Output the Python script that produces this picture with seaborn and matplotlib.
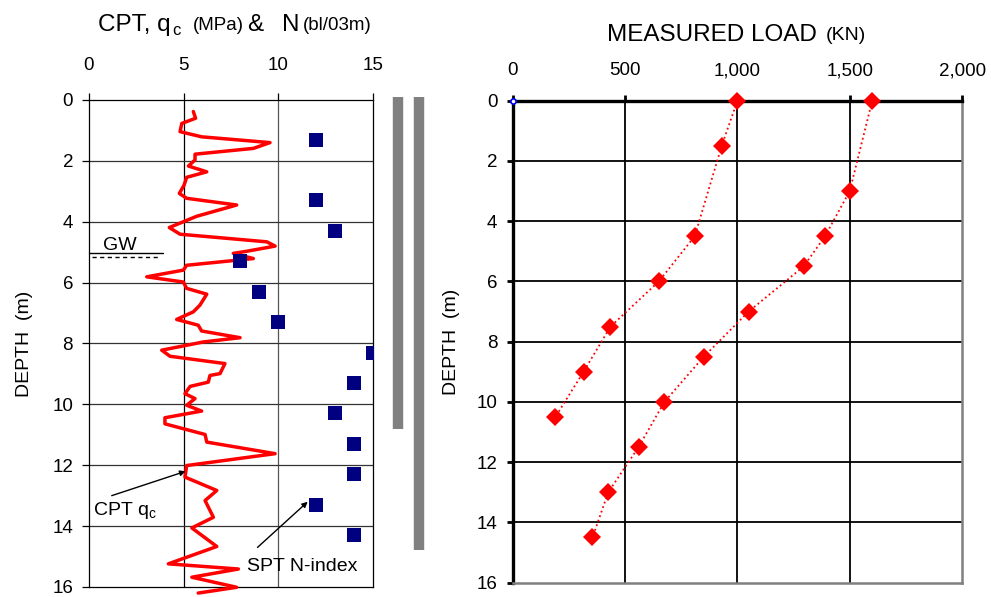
import matplotlib
matplotlib.use('Agg')
import matplotlib.pyplot as plt
import pandas as pd
import seaborn as sns

# CPT cone resistance qc (MPa) against depth (m)
cpt_qc = [5.51, 5.63, 4.90, 4.81, 5.95, 9.56, 8.68, 5.60, 5.60, 5.25, 6.22, 5.16,
          5.02, 4.77, 5.16, 7.80, 5.69, 4.24, 4.81, 9.39, 9.83, 8.33, 7.62, 8.68,
          5.16, 4.98, 3.05, 4.98, 5.16, 6.22, 5.86, 5.51, 4.63, 5.77, 5.95, 7.98,
          6.04, 3.84, 4.28, 7.18, 6.92, 6.39, 6.30, 5.34, 5.07, 5.60, 5.16, 5.95,
          4.01, 4.01, 6.13, 6.22, 9.83, 5.16, 5.07, 6.75, 6.13, 6.57, 5.43, 6.75,
          4.19, 7.89, 5.43, 7.80, 5.77]
cpt_depth = [0.38, 0.60, 0.77, 1.04, 1.21, 1.40, 1.59, 1.78, 1.97, 2.17, 2.36, 2.54,
             2.80, 3.07, 3.23, 3.45, 3.82, 4.19, 4.41, 4.66, 4.80, 4.97, 5.04, 5.21,
             5.43, 5.59, 5.81, 5.98, 6.19, 6.38, 6.74, 6.96, 7.21, 7.40, 7.59, 7.81,
             7.95, 8.22, 8.42, 8.66, 8.99, 9.05, 9.27, 9.41, 9.65, 9.81, 10.03, 10.22,
             10.44, 10.64, 10.99, 11.24, 11.62, 12.01, 12.39, 12.83, 13.16, 13.71, 14.06, 14.67,
             15.24, 15.41, 15.68, 16.01, 16.20]

# SPT blow counts
spt_n = [12, 12, 13, 8, 9, 10, 15, 14, 13, 14, 14, 12, 14]
spt_depth = [1.3, 3.3, 4.3, 5.3, 6.3, 7.3, 8.3, 9.3, 10.3, 11.3, 12.3, 13.3, 14.3]

# pile lengths shown as grey bars (m)
pile_x = [16.3, 17.45]
pile_top = [-0.1, -0.1]
pile_bottom = [10.8, 14.8]

gw_depth = 5.02

# measured load distribution along the two piles
pile1_load = [1000, 930, 810, 650, 435, 315, 190]
pile1_depth = [0, 1.5, 4.5, 6.0, 7.5, 9.0, 10.5]
pile2_load = [1600, 1500, 1390, 1295, 1050, 850, 675, 560, 425, 355]
pile2_depth = [0, 3.0, 4.5, 5.5, 7.0, 8.5, 10.0, 11.5, 13.0, 14.5]
origin_load = [0]
origin_depth = [0]

sns.set_theme(style="white", rc={'text.color': 'black', 'axes.labelcolor': 'black',
                                 'xtick.color': 'black', 'ytick.color': 'black'})
plt.rcParams['font.family'] = ['Liberation Sans', 'DejaVu Sans']

fig = plt.figure(figsize=(9.91, 5.97), dpi=100)
ax1 = fig.add_axes([0.0898, 0.0168, 0.2866, 0.8157])
ax2 = fig.add_axes([0.5174, 0.0240, 0.4534, 0.8073])

# ---- left panel: CPT and SPT
cpt = pd.DataFrame({'qc': cpt_qc, 'depth': cpt_depth})
spt = pd.DataFrame({'N': spt_n, 'depth': spt_depth})

for x in [5, 10]:
    ax1.axvline(x, color='black' if x == 5 else '#555555', lw=0.9, zorder=1)
for y in range(2, 16, 2):
    ax1.axhline(y, color='#333333', lw=0.9, zorder=1)

sns.lineplot(data=cpt, x='qc', y='depth', sort=False, estimator=None,
             color='#ff0000', lw=2.5, ax=ax1, zorder=3, clip_on=False)
sns.scatterplot(data=spt, x='N', y='depth', marker='s', s=105, color='#000080',
                linewidth=0, ax=ax1, zorder=4)

ax1.vlines(pile_x, pile_top, pile_bottom, color='#808080', lw=7.5, clip_on=False)

ax1.plot([0, 3.9], [gw_depth, gw_depth], color='black', lw=1.0, clip_on=False)
ax1.plot([0.15, 3.7], [gw_depth + 0.14, gw_depth + 0.14], color='black', lw=1.0,
         ls=(0, (3, 2.5)))
ax1.text(0.75, gw_depth - 0.1, 'GW', fontsize=14, va='baseline', ha='left')

arrow = dict(arrowstyle='-|>', color='black', lw=1.0, shrinkA=0, shrinkB=0,
             mutation_scale=8)
ax1.annotate('', xy=(5.1, 12.2), xytext=(1.2, 13.0), arrowprops=arrow)
ax1.text(0.2, 13.65, 'CPT q$_\\mathregular{c}$', fontsize=14, va='baseline', ha='left')
ax1.annotate('', xy=(11.55, 13.2), xytext=(8.9, 14.7), arrowprops=arrow)
ax1.text(8.33, 15.46, 'SPT N-index', fontsize=14, va='baseline', ha='left')

ax1.set_xlim(0, 15)
ax1.set_ylim(16, 0)
ax1.set_xticks([0, 5, 10, 15])
ax1.set_yticks(range(0, 17, 2))
ax1.xaxis.tick_top()
ax1.set_xlabel('')
ax1.set_ylabel('DEPTH  (m)', fontsize=14)
ax1.yaxis.set_label_coords(-0.197, 0.5)
for s in ax1.spines.values():
    s.set_color('black')
    s.set_linewidth(0.9)
ax1.tick_params(axis='both', direction='out', length=5, width=0.9,
                labelsize=13.5, top=True, left=True, bottom=False)
ax1.tick_params(axis='x', pad=14)
ax1.tick_params(axis='y', pad=6.5)

# ---- right panel: measured load
loads = pd.DataFrame({
    'load': pile1_load + pile2_load,
    'depth': pile1_depth + pile2_depth,
    'pile': ['P1'] * len(pile1_load) + ['P2'] * len(pile2_load),
})

for x in [500, 1000, 1500]:
    ax2.axvline(x, color='black', lw=1.3, zorder=1)
for y in range(2, 16, 2):
    ax2.axhline(y, color='black', lw=1.3, zorder=1)

sns.lineplot(data=loads, x='load', y='depth', hue='pile', units='pile',
             palette=['#ff0000', '#ff0000'], sort=False, estimator=None,
             lw=1.3, ls=':', marker='D', markersize=9.5, markeredgewidth=0,
             legend=False, ax=ax2, zorder=3, clip_on=False)
ax2.scatter(origin_load, origin_depth, s=14, facecolor='white', edgecolor='blue',
            linewidth=1.2, zorder=5, clip_on=False)

ax2.set_xlim(0, 2000)
ax2.set_ylim(16, 0)
ax2.set_xticks([0, 500, 1000, 1500, 2000])
ax2.set_xticklabels(['0', '500', '1,000', '1,500', '2,000'])
ax2.set_yticks(range(0, 17, 2))
ax2.xaxis.tick_top()
ax2.set_xlabel('')
ax2.set_ylabel('DEPTH  (m)', fontsize=14)
ax2.yaxis.set_label_coords(-0.117, 0.5)
ax2.spines['left'].set_color('black')
ax2.spines['left'].set_linewidth(2.4)
ax2.spines['top'].set_color('black')
ax2.spines['top'].set_linewidth(2.4)
ax2.spines['right'].set_color('#808080')
ax2.spines['right'].set_linewidth(1.8)
ax2.spines['bottom'].set_color('#808080')
ax2.spines['bottom'].set_linewidth(1.8)
ax2.tick_params(axis='both', direction='out', length=4.5, width=2,
                labelsize=13.5, top=True, left=True, bottom=False)
ax2.tick_params(axis='x', pad=11)
ax2.tick_params(axis='y', pad=6.5)

# ---- titles
def px(x, y):
    return x / 991, 1 - y / 597

fig.text(*px(98, 31), 'CPT, q', fontsize=17.5, va='baseline', ha='left')
fig.text(*px(172, 35), 'c', fontsize=12, va='baseline', ha='left')
fig.text(*px(193, 30), '(MPa)', fontsize=13.5, va='baseline', ha='left')
fig.text(*px(247, 31), '&', fontsize=17.5, va='baseline', ha='left')
fig.text(*px(282, 31), 'N', fontsize=17.5, va='baseline', ha='left')
fig.text(*px(303, 30), '(bl/03m)', fontsize=13.5, va='baseline', ha='left')

fig.text(*px(607, 41), 'MEASURED LOAD', fontsize=17.5, va='baseline', ha='left')
fig.text(*px(826, 40), '(KN)', fontsize=14, va='baseline', ha='left')

fig.savefig('out.png', dpi=100)
